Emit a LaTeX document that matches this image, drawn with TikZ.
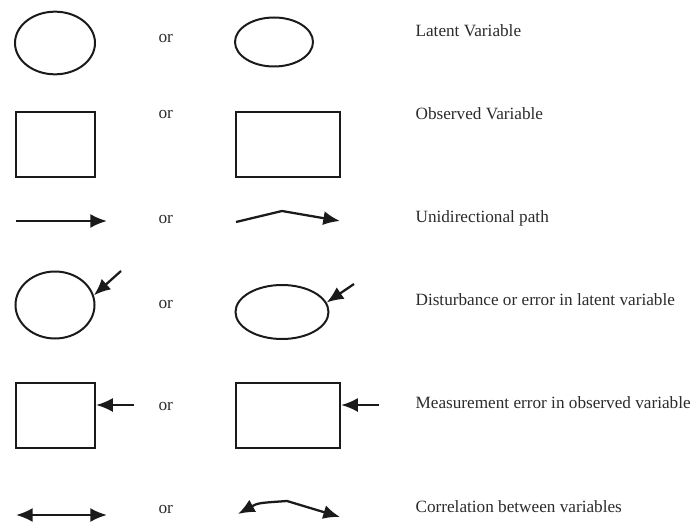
\documentclass[tikz,border=0pt]{standalone}
\usepackage{fontspec}
\setmainfont{Liberation Serif}
\usetikzlibrary{arrows.meta,shapes.geometric}
\definecolor{ink}{HTML}{1A1A1A}
\definecolor{label}{HTML}{2B2B2B}

\begin{document}
\begin{tikzpicture}[x=0.75pt,y=-0.75pt,ink,line width=1.7pt,
  >={Latex[length=12.5pt,width=10.5pt]},
  latent/.style={ellipse,draw=ink,line width=1.5pt,inner sep=0pt},
  observed/.style={rectangle,draw=ink,line width=1.7pt,inner sep=0pt},
  orword/.style={anchor=base west,text=label,font=\fontsize{13}{15}\selectfont},
  legend/.style={anchor=base west,text=label,font=\fontsize{12.9}{16}\selectfont}]
  \useasboundingbox (0,0) rectangle (699,524);

  \node[latent,minimum width=60pt,minimum height=47pt] (lat1) at (55,43) {};
  \node[latent,minimum width=58.5pt,minimum height=36.75pt] (lat2) at (274,42) {};
  \node[orword] (or1) at (153,43) {or};
  \node[legend] (t1) at (410,37) {Latent Variable};

  \node[observed,minimum width=59.25pt,minimum height=48.75pt] (obs1) at (55.5,144.5) {};
  \node[observed,minimum width=78pt,minimum height=48.75pt] (obs2) at (288,144.5) {};
  \node[orword] (or2) at (153,119) {or};
  \node[legend] (t2) at (410,120) {Observed Variable};

  \coordinate (u1a) at (16,221);
  \coordinate (u1b) at (107,221);
  \draw[->] (u1a) -- (u1b);
  \coordinate (u2a) at (236,222);
  \coordinate (u2m) at (282,211);
  \coordinate (u2b) at (340,221);
  \draw[->] (u2a) -- (u2m) -- (u2b);
  \node[orword] (or3) at (153,223) {or};
  \node[legend] (t3) at (410,222) {Unidirectional path};

  \node[latent,minimum width=59.25pt,minimum height=50.25pt] (dis1) at (55,305) {};
  \node[latent,minimum width=69.75pt,minimum height=40.5pt] (dis2) at (282,312) {};
  \coordinate (e1) at (121,271);
  \coordinate (e2) at (354,284);
  \draw[->] (e1) -- (dis1.14);
  \draw[->] (e2) -- (dis2.12);
  \node[orword] (or4) at (153,308) {or};
  \node[legend] (t4) at (410,305) {Disturbance or error in latent variable};

  \node[observed,minimum width=59.25pt,minimum height=48.75pt] (mes1) at (55.5,415.5) {};
  \node[observed,minimum width=78pt,minimum height=48.75pt] (mes2) at (288,415.5) {};
  \coordinate (e3) at (134,405);
  \coordinate (e4) at (379,405);
  \draw[->] (e3) -- (e3 -| mes1.east);
  \draw[->] (e4) -- (e4 -| mes2.east);
  \node[orword] (or5) at (153,410) {or};
  \node[legend] (t5) at (410,408) {Measurement error in observed variable};

  \coordinate (c1a) at (16,515);
  \coordinate (c1b) at (107,515);
  \draw[<->] (c1a) -- (c1b);
  \coordinate (c2a) at (238,514);
  \coordinate (c2m) at (287,501);
  \coordinate (c2b) at (340,517);
  \draw[<->] (c2a) .. controls (258,503) .. (c2m) -- (c2b);
  \node[orword] (or6) at (153,513) {or};
  \node[legend] (t6) at (410,512) {Correlation between variables};
\end{tikzpicture}
\end{document}
